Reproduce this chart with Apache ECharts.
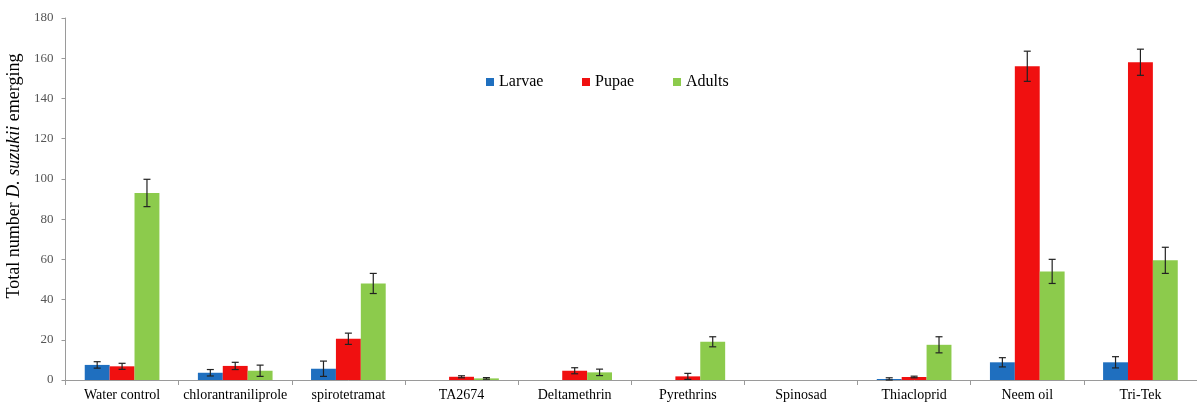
<!DOCTYPE html>
<html>
<head>
<meta charset="utf-8">
<script src="https://cdn.jsdelivr.net/npm/echarts@6/dist/echarts.min.js"></script>
<style>
  html, body { margin: 0; padding: 0; background: #fff; }
  #chart { width: 1197px; height: 407px; }
</style>
</head>
<body>
<div id="chart"></div>
<script>
// Treatments on the x axis
const categories = ['Water control', 'chlorantraniliprole', 'spirotetramat', 'TA2674', 'Deltamethrin',
  'Pyrethrins', 'Spinosad', 'Thiacloprid', 'Neem oil', 'Tri-Tek'];

// Mean counts per life stage
const larvae = [7.5, 3.6, 5.6, 0, 0, 0, 0, 0.5, 8.8, 8.8];
const pupae  = [6.8, 7.0, 20.5, 1.6, 4.6, 1.8, 0, 1.5, 156, 158];
const adults = [93, 4.6, 48, 0.8, 3.8, 19, 0, 17.5, 54, 59.5];

// Standard errors
const larvaeErr = [1.6, 1.6, 3.8, 0, 0, 0, 0, 0.6, 2.3, 2.8];
const pupaeErr  = [1.5, 1.8, 2.8, 0.5, 1.5, 1.5, 0, 0.4, 7.5, 6.5];
const adultsErr = [6.8, 2.8, 5, 0.4, 1.6, 2.5, 0, 4, 6, 6.5];

const yTicks = { min: 0, max: 180, interval: 20 };

const seriesDefs = [
  { name: 'Larvae', data: larvae, err: larvaeErr, color: '#1f6fbf', legendLeft: 481 },
  { name: 'Pupae',  data: pupae,  err: pupaeErr,  color: '#f01010', legendLeft: 577 },
  { name: 'Adults', data: adults, err: adultsErr, color: '#8ccb4c', legendLeft: 668 }
];

const BAR_RATIO = 0.22;
const serif = '"Liberation Serif", "DejaVu Serif", serif';

const chart = echarts.init(document.getElementById('chart'));

function errorBarSeries(def, idx) {
  const rows = def.data.map((v, i) => [i, v, def.err[i]]);
  return {
    type: 'custom',
    name: def.name + ' error',
    z: 10,
    silent: true,
    data: rows,
    encode: { x: 0, y: 1 },
    renderItem: function (params, api) {
      const i = api.value(0), v = api.value(1), e = api.value(2);
      if (!e) return null;
      const band = api.size([1, 0])[0];
      const bw = band * BAR_RATIO;
      const c = api.coord([i, v]);
      const x = c[0] + (idx - 1) * bw;
      const hi = api.coord([i, v + e])[1];
      const lo = api.coord([i, Math.max(v - e, 0)])[1];
      const cap = 3.5;
      const st = { stroke: '#222', lineWidth: 1.2 };
      return {
        type: 'group',
        children: [
          { type: 'line', shape: { x1: x, y1: hi, x2: x, y2: lo }, style: st },
          { type: 'line', shape: { x1: x - cap, y1: hi, x2: x + cap, y2: hi }, style: st },
          { type: 'line', shape: { x1: x - cap, y1: lo, x2: x + cap, y2: lo }, style: st }
        ]
      };
    }
  };
}

const option = {
  animation: false,
  backgroundColor: '#ffffff',
  grid: { left: 65.5, right: 0, top: 18, bottom: 27 },
  legend: seriesDefs.map(d => ({
    data: [d.name],
    top: 69,
    left: d.legendLeft,
    itemWidth: 8,
    itemHeight: 8,
    icon: 'rect',
    textStyle: { fontFamily: serif, fontSize: 16, color: '#000' }
  })),
  graphic: [{
    type: 'text',
    x: 14,
    y: 176,
    rotation: Math.PI / 2,
    style: {
      text: '{n|Total number }{i|D. suzukii}{n| emerging}',
      align: 'center',
      verticalAlign: 'middle',
      rich: {
        n: { fontFamily: serif, fontSize: 18, fill: '#000', color: '#000' },
        i: { fontFamily: serif, fontSize: 18, fill: '#000', color: '#000', fontStyle: 'italic' }
      }
    }
  }],
  xAxis: {
    type: 'category',
    data: categories,
    axisLine: { lineStyle: { color: '#9a9a9a', width: 1 } },
    axisTick: { show: true, length: 5, lineStyle: { color: '#9a9a9a' } },
    axisLabel: { fontFamily: serif, fontSize: 14, color: '#000', margin: 8, interval: 0 }
  },
  yAxis: {
    type: 'value',
    min: yTicks.min,
    max: yTicks.max,
    interval: yTicks.interval,
    axisLine: { show: true, lineStyle: { color: '#9a9a9a', width: 1 } },
    axisTick: { show: true, length: 4, lineStyle: { color: '#9a9a9a' } },
    splitLine: { show: false },
    axisLabel: { fontFamily: serif, fontSize: 13, color: '#555', margin: 12 }
  },
  series: [
    ...seriesDefs.map(d => ({
      type: 'bar',
      name: d.name,
      data: d.data,
      barWidth: (BAR_RATIO * 100) + '%',
      barGap: '0%',
      itemStyle: { color: d.color }
    })),
    ...seriesDefs.map(errorBarSeries)
  ]
};

chart.setOption(option);
</script>
</body>
</html>
